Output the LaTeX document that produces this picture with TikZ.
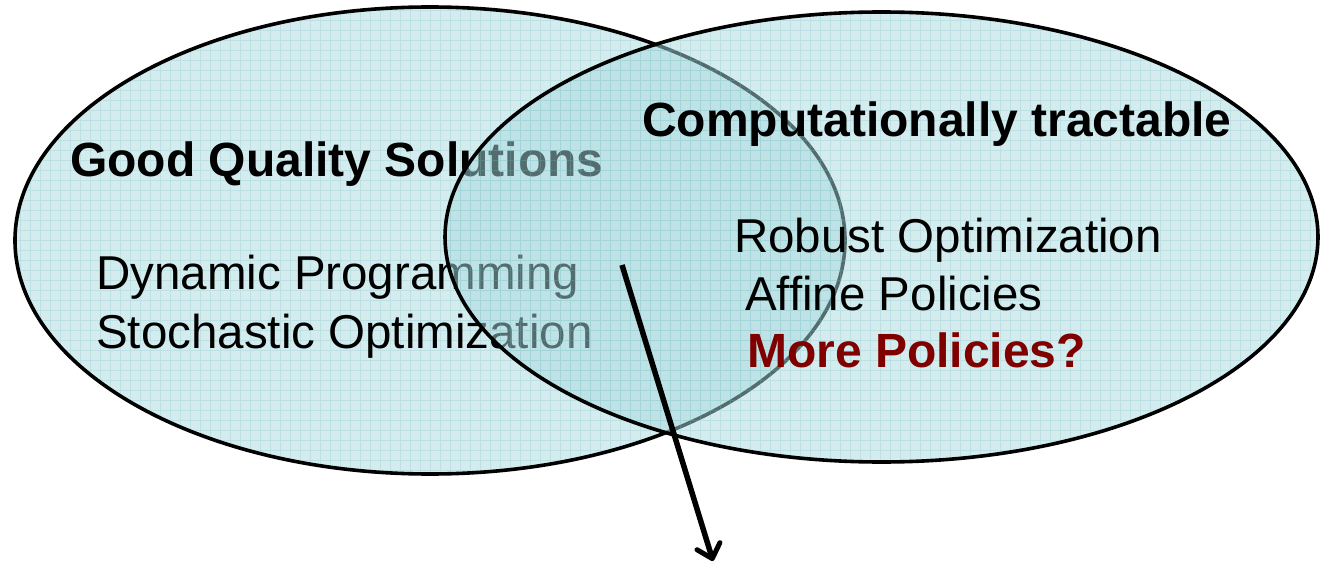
\documentclass[tikz,border=0pt]{standalone}
\usepackage{fontspec}
\setmainfont{Liberation Sans}
\usetikzlibrary{arrows.meta,shapes.geometric}

\definecolor{setfill}{RGB}{212,236,238}
\definecolor{tractfill}{RGB}{169,217,221}
\definecolor{gridtint}{RGB}{120,190,196}
\definecolor{darkred}{RGB}{128,0,0}

\tikzset{
  setshape/.style={ellipse, inner sep=0pt},
  rim/.style={draw=black, line width=3.6pt},
  heading/.style={anchor=base west, inner sep=0pt,
    font=\fontsize{48}{52}\selectfont\bfseries},
  item/.style={anchor=base west, inner sep=0pt,
    font=\fontsize{47.5}{52}\selectfont},
  gridtexture/.style={draw=gridtint, line width=0.6pt, opacity=0.25},
  pointer/.style={draw=black, line width=5.5pt,
    -{Straight Barb[length=13pt,width=24pt,line width=5pt,round]}}
}

\begin{document}
\begin{tikzpicture}[x=1pt, y=-1pt]
  \useasboundingbox (0,0) rectangle (1321,564);

  % left set: good quality solutions
  \node[setshape, fill=setfill, minimum width=830pt, minimum height=467pt]
    (good) at (430,240.5) {};
  \begin{scope}
    \clip (430,240.5) ellipse [x radius=415, y radius=233.5];
    \draw[gridtexture] (0,0) grid[step=10pt] (1330,570);
  \end{scope}
  \draw[rim] (430,240.5) ellipse [x radius=415, y radius=233.5];
  \node[heading] (goodtitle) at (70,177) {Good Quality Solutions};
  \node[item] (dp) at (96,289) {Dynamic Programming};
  \node[item] (so) at (96,348) {Stochastic Optimization};

  % right set: computationally tractable, half transparent over the left one
  \node[setshape, fill=tractfill, fill opacity=0.5,
        minimum width=873pt, minimum height=450pt]
    (tract) at (881.5,237) {};
  \begin{scope}
    \clip (881.5,237) ellipse [x radius=436.5, y radius=225];
    \draw[gridtexture] (0,0) grid[step=10pt] (1330,570);
  \end{scope}
  \draw[rim] (881.5,237) ellipse [x radius=436.5, y radius=225];
  \node[heading] (tracttitle) at (642,137) {Computationally tractable};
  \node[item] (ro) at (734,252) {Robust Optimization};
  \node[item] (ap) at (745,310) {Affine Policies};
  \node[heading, text=darkred] (mp) at (747,367) {More Policies?};

  % pointer out of the intersection
  \coordinate (arrowstart) at (622,265);
  \coordinate (arrowend) at (713,561);
  \draw[pointer] (arrowstart) -- (arrowend);
\end{tikzpicture}
\end{document}
